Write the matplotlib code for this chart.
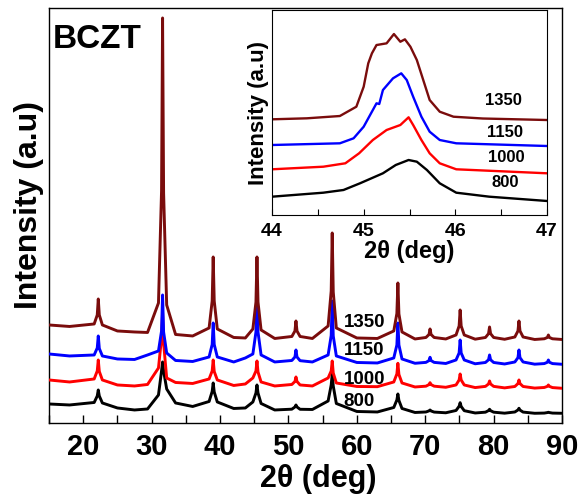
import matplotlib
matplotlib.use("Agg")
import matplotlib.pyplot as plt
from matplotlib.ticker import MultipleLocator

plt.rcParams['font.family'] = ['Liberation Sans', 'DejaVu Sans']
plt.rcParams['font.weight'] = 'bold'

# --------------------------------------------------
# main pattern (2theta, intensity a.u., stacked)
# --------------------------------------------------
two_theta = [
    15, 18,
    21.6, 22.05, 22.2, 22.35, 22.8,
    25, 27.5, 29.4,
    31.0, 31.45, 31.6, 31.75, 32.2,
    33.5, 36,
    38.4, 38.85, 39.0, 39.15, 39.6,
    42, 43.7,
    44.8, 45.25, 45.4, 45.55, 46.0,
    48,
    50.5, 50.95, 51.1, 51.25, 51.7,
    53.5,
    55.8, 56.25, 56.4, 56.55, 57.0,
    60, 63,
    65.4, 65.85, 66.0, 66.15, 66.6,
    68.5,
    70.1, 70.55, 70.7, 70.85, 71.3,
    73,
    74.5, 74.95, 75.1, 75.25, 75.7,
    77.3,
    78.8, 79.25, 79.4, 79.55, 80.0,
    81.6,
    83.1, 83.55, 83.7, 83.85, 84.3,
    86,
    87.4, 87.85, 88.0, 88.15, 88.6,
    90,
]

i_1350 = [
    98, 96.5,
    99, 108, 124, 108, 98,
    92, 91, 90.5,
    120, 232, 405, 230, 118,
    88.5, 87,
    95, 122, 166, 122, 94,
    85.5, 85,
    94, 121, 166, 121, 93,
    84.5,
    86.5, 92, 102, 92, 86.5,
    84.5,
    97, 132, 190, 131, 95,
    85, 84.5,
    92, 109.5, 140, 109, 91,
    84,
    85.5, 88.5, 94, 88.5, 85.5,
    84,
    88, 97, 113, 97, 88,
    83.8,
    85.5, 89.3, 96, 89.3, 85.5,
    83.7,
    86, 92, 102, 92, 86,
    83.5,
    84.2, 85.5, 88, 85.5, 84.2,
    83.5,
]

i_1150 = [
    69, 67,
    68, 75, 87, 74.5, 67,
    64, 63.5, 68,
    72, 92, 128, 91, 70,
    62.5, 61.5,
    66, 78.5, 100, 78.5, 66,
    61, 65,
    69, 91, 128, 91, 68,
    61,
    62.5, 66, 73, 66, 62.3,
    61,
    68, 87.5, 122, 87, 67,
    60.5, 60,
    65, 78, 100, 78, 64,
    59.7,
    60.6, 62.4, 65.7, 62.4, 60.6,
    59.5,
    63, 70, 83, 70, 63,
    59.2,
    60.5, 63.2, 68, 63.2, 60.5,
    59,
    61, 65.3, 73, 65.3, 61,
    58.8,
    59.4, 60.7, 63, 60.7, 59.4,
    58.7,
]

i_1000 = [
    43, 41,
    44, 52, 63, 51.5, 43,
    38, 37, 38.5,
    55, 85, 110, 80, 45,
    40.5, 39.5,
    44, 52, 63, 51.5, 43,
    37.5, 39,
    45, 52, 62, 51, 41,
    37,
    38.5, 41.5, 46, 41.5, 38,
    37,
    45, 52, 62, 50, 40,
    36.5, 36.3,
    41, 49, 59.7, 48.5, 40,
    36,
    36.8, 38.4, 40.3, 38.4, 36.8,
    35.7,
    38, 43, 49, 43, 38,
    35.4,
    36.6, 39, 42, 39, 36.6,
    35.1,
    36.5, 39.4, 43, 39.4, 36.5,
    34.9,
    35.5, 36.6, 38, 36.6, 35.4,
    34.7,
]

i_800 = [
    19, 18,
    20.5, 27, 33, 27, 20,
    15, 13, 14,
    28, 52, 61, 52, 34,
    20, 16.5,
    21.5, 31.5, 40, 31, 21,
    14.5, 15,
    21, 30, 38, 30, 19.5,
    13,
    13.8, 16, 18, 16, 13.7,
    13.5,
    22, 38, 49, 37, 19.5,
    11.5, 11,
    15.5, 23, 29, 22.5, 14.5,
    10.5,
    11, 12.1, 13, 12, 10.9,
    10.2,
    12.5, 16.7, 20.3, 16.5, 12.3,
    10,
    10.8, 12.4, 13.7, 12.3, 10.8,
    9.8,
    11, 13, 14.7, 12.9, 10.9,
    9.7,
    9.9, 10.4, 10.7, 10.4, 9.9,
    9.7,
]

# --------------------------------------------------
# inset : zoom on the (200) peak near 45 deg
# --------------------------------------------------
ins_x_1350 = [44.0, 44.38, 44.74, 44.92, 45.0, 45.05, 45.09, 45.14, 45.25, 45.33,
              45.40, 45.45, 45.51, 45.58, 45.65, 45.72, 45.83, 45.98, 46.3, 47.0]
ins_y_1350 = [95.7, 96.7, 99, 108.3, 128.3, 151.7, 161.7, 170, 171.7, 181,
              173.3, 175.7, 168.3, 155, 135, 115, 103.3, 98.3, 96.5, 95]

ins_x_1150 = [44.0, 44.74, 44.89, 45.0, 45.1, 45.14, 45.17, 45.21, 45.32, 45.41,
              45.47, 45.54, 45.63, 45.72, 45.83, 46.01, 47.0]
ins_y_1150 = [70, 71.7, 76.7, 88.3, 105, 111.7, 111, 125, 136.7, 141.7,
              135, 118.3, 98.3, 83.3, 75, 71.7, 69]

ins_x_1000 = [44.0, 44.56, 44.8, 44.95, 45.1, 45.25, 45.4, 45.49, 45.54, 45.63,
              45.72, 45.83, 46.01, 47.0]
ins_y_1000 = [45.7, 48.3, 51.7, 61.7, 75, 85, 90, 97.7, 90, 75,
              61.7, 51.7, 45.7, 41.7]

ins_x_800 = [44.0, 44.56, 44.78, 44.96, 45.21, 45.35, 45.49, 45.58, 45.69, 45.83,
             46.01, 46.37, 47.0]
ins_y_800 = [18.3, 22.3, 25, 31.7, 41.7, 50, 55, 53.3, 45, 31.7,
             22.3, 18.3, 14]

temps = ["800", "1000", "1150", "1350"]
colors = ["black", "#ff0000", "#0000ff", "#7a0c0c"]

# --------------------------------------------------
# figure
# --------------------------------------------------
fig = plt.figure(figsize=(5.85, 4.95), dpi=100)
ax = fig.add_axes([0.0838, 0.1455, 0.877, 0.8384])

main_curves = [i_800, i_1000, i_1150, i_1350]
for k, (yy, c) in enumerate(zip(main_curves, colors)):
    ax.plot(two_theta, yy, color=c, lw=2.1, zorder=2 + k)

main_lab_y = [21, 43, 72, 100]
for t, yl in zip(temps, main_lab_y):
    ax.text(58.1, yl, t, fontsize=13.5, fontweight='bold', va='center', ha='left', zorder=10)

ax.set_xlim(15, 90)
ax.set_ylim(0, 415)
ax.xaxis.set_major_locator(MultipleLocator(10))
ax.xaxis.set_minor_locator(MultipleLocator(5))
ax.tick_params(axis='x', which='both', direction='in', length=6, width=1.0,
               labelsize=21, pad=7, top=False)
ax.set_yticks([])
for s in ax.spines.values():
    s.set_linewidth(1.0)
ax.set_xlabel("2θ (deg)", fontsize=22, fontweight='bold', labelpad=2)
ax.xaxis.set_label_coords(0.524, -0.1)
ax.set_ylabel("Intensity (a.u)", fontsize=23, fontweight='bold', labelpad=2)
ax.yaxis.set_label_coords(-0.01, 0.525)
ax.text(0.008, 0.962, "BCZT", transform=ax.transAxes, fontsize=24,
        fontweight='bold', va='top', ha='left')

# inset
axi = fig.add_axes([0.465, 0.5657, 0.470, 0.414])
ins = [(ins_x_800, ins_y_800), (ins_x_1000, ins_y_1000),
       (ins_x_1150, ins_y_1150), (ins_x_1350, ins_y_1350)]
for (xx, yy), c in zip(ins, colors):
    axi.plot(xx, yy, color=c, lw=1.7)

ins_lab_x = [46.4, 46.36, 46.35, 46.32]
ins_lab_y = [32.3, 57.3, 82.3, 115]
for t, xl, yl in zip(temps, ins_lab_x, ins_lab_y):
    axi.text(xl, yl, t, fontsize=12, fontweight='bold', va='center', ha='left')

axi.set_xlim(44, 47)
axi.set_ylim(0, 205)
axi.xaxis.set_major_locator(MultipleLocator(1))
axi.xaxis.set_minor_locator(MultipleLocator(0.5))
axi.tick_params(axis='x', which='both', direction='in', length=4, width=0.8,
                labelsize=14, pad=6, top=False)
axi.set_yticks([])
for s in axi.spines.values():
    s.set_linewidth(0.8)
axi.set_xlabel("2θ (deg)", fontsize=17, fontweight='bold', labelpad=0)
axi.set_ylabel("Intensity (a.u)", fontsize=16, fontweight='bold', labelpad=2)

fig.savefig("out.png", dpi=100)
